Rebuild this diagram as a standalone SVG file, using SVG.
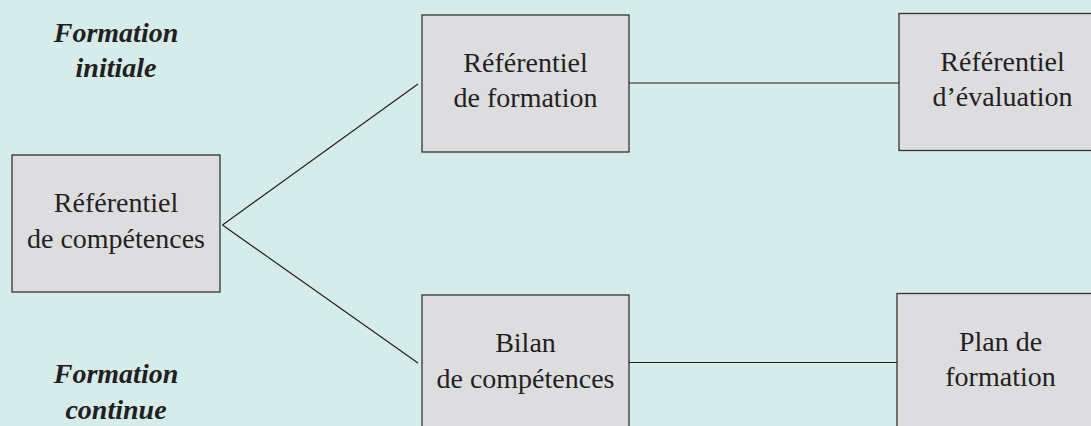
<svg xmlns="http://www.w3.org/2000/svg" width="1091" height="426" viewBox="0 0 1091 426">
<style>
.box{fill:#dddde0;stroke:#333333;stroke-width:1.3}
.t{font-family:"Liberation Serif",serif;font-size:28px;fill:#231f20;text-anchor:middle}
.lbl{font-family:"Liberation Serif",serif;font-size:28px;font-weight:bold;font-style:italic;fill:#231f20;text-anchor:middle}
.c{stroke:#231f20;stroke-width:1.2;fill:none}
</style>
<rect width="1091" height="426" fill="#d6ecea"/>
<g id="connectors">
<line class="c" x1="222.5" y1="225" x2="418" y2="84"/>
<line class="c" x1="222.5" y1="225" x2="418" y2="363"/>
<line class="c" x1="629" y1="83" x2="899" y2="83"/>
<line class="c" x1="629" y1="362.5" x2="897" y2="362.5"/>
</g>
<g id="label-initiale">
<text class="lbl" x="116" y="42">Formation</text>
<text class="lbl" x="116" y="77">initiale</text>
</g>
<g id="label-continue">
<text class="lbl" x="116" y="383">Formation</text>
<text class="lbl" x="116" y="419">continue</text>
</g>
<g id="node-ref-competences">
<rect class="box" x="12" y="155" width="208" height="137"/>
<text class="t" x="116" y="212">Référentiel</text>
<text class="t" x="116" y="248">de compétences</text>
</g>
<g id="node-ref-formation">
<rect class="box" x="422" y="15" width="207" height="137"/>
<text class="t" x="525.5" y="72">Référentiel</text>
<text class="t" x="525.5" y="107">de formation</text>
</g>
<g id="node-ref-evaluation">
<rect class="box" x="899" y="13.5" width="207" height="137"/>
<text class="t" x="1002.5" y="71">Référentiel</text>
<text class="t" x="1002.5" y="106">d’évaluation</text>
</g>
<g id="node-bilan">
<rect class="box" x="422" y="295" width="207" height="137"/>
<text class="t" x="525.5" y="352">Bilan</text>
<text class="t" x="525.5" y="388">de compétences</text>
</g>
<g id="node-plan">
<rect class="box" x="897" y="293.5" width="207" height="137"/>
<text class="t" x="1000.5" y="351">Plan de</text>
<text class="t" x="1000.5" y="386">formation</text>
</g>
</svg>
